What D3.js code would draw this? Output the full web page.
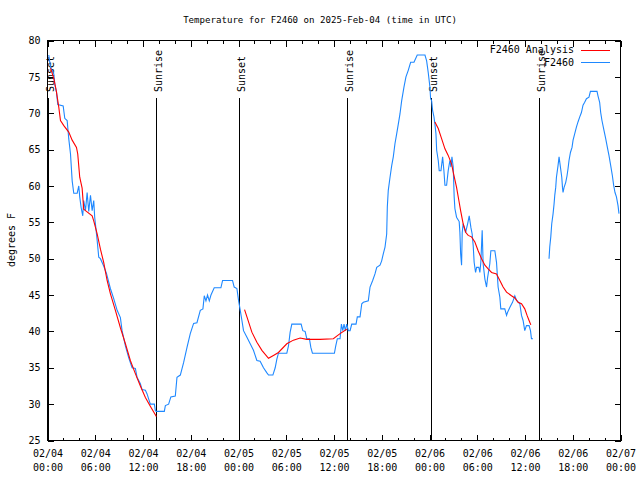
<!DOCTYPE html>
<html>
<head>
<meta charset="utf-8">
<script src="https://cdn.jsdelivr.net/npm/d3@7"></script>
<style>
html,body{margin:0;padding:0;background:#fff;}
svg{display:block;}
text{font-family:"DejaVu Sans Mono",monospace;font-size:10px;fill:#000;}
</style>
</head>
<body>
<svg id="chart" width="640" height="480"></svg>
<script>
// ---- data (hours since 2025-02-04 00:00 UTC) ----
const obsHours = [0.16,0.38,0.59,0.79,0.92,1.13,1.29,1.97,2.17,2.47,2.67,2.89,3.1,3.3,3.73,3.93,4.05,4.23,4.43,4.55,4.77,4.98,5.18,5.4,5.61,5.81,5.93,6.11,6.24,6.44,6.65,7.06,7.4,7.9,8.32,8.75,9.16,9.37,9.79,10.2,10.63,11.04,11.25,11.67,11.88,12.3,12.51,12.92,13.43,13.55,13.68,14.68,14.81,15.22,15.5,16.06,16.27,16.69,17.1,17.53,17.94,18.36,18.78,19.2,19.53,19.7,19.91,20.11,20.33,20.54,20.95,21.79,22.0,23.25,23.46,23.8,24.0,24.22,24.43,24.63,25.06,25.47,25.88,26.31,26.72,27.14,27.57,27.77,28.32,28.61,28.82,29.02,30.07,30.28,30.49,30.7,31.87,32.08,32.37,32.58,32.91,33.09,33.29,36.05,36.22,36.42,36.76,36.93,37.1,37.26,37.43,37.6,37.8,38.02,38.23,38.77,38.93,39.27,39.49,39.69,40.31,40.53,40.86,41.15,41.37,41.78,41.99,42.2,42.41,42.62,42.7,42.82,43.04,43.25,43.45,43.66,43.88,44.08,44.29,44.5,44.79,45.04,45.33,45.63,46.05,46.46,47.43,47.64,47.84,48.05,48.14,48.27,48.39,48.56,48.68,48.81,48.9,49.1,49.22,49.44,49.65,49.81,49.94,50.15,50.35,50.56,50.69,50.82,50.98,51.1,51.19,51.4,51.73,51.82,51.91,52.03,52.11,52.23,52.53,52.79,52.99,53.2,53.36,53.49,53.61,53.79,53.92,54.2,54.33,54.45,54.62,54.74,54.96,55.17,55.3,55.58,55.71,56.21,56.42,56.62,56.84,56.96,57.46,57.68,57.8,58.09,58.43,58.72,58.93,59.35,59.56,59.76,59.97,60.18,60.51,60.69,60.81,61.01,
  62.0,
  63.02,63.11,63.24,63.36,63.53,63.65,63.74,63.86,63.95,64.15,64.28,64.45,64.62,64.71,64.78,64.91,65.12,65.28,65.41,65.53,65.71,65.91,66.04,66.25,66.46,66.66,66.88,67.09,67.29,67.5,67.72,68.04,68.22,69.05,69.17,69.38,69.51,69.67,69.93,70.14,70.35,70.55,70.77,70.98,71.14,71.31,71.49,71.69,71.81];
const obsTemps = [78,76.3,75.9,75.4,74,72.9,71.2,71,69.3,69,66.5,64.4,60.7,59,59,60,58.5,57,55.9,58,56.6,59.1,56.5,58.7,56.6,58,55.7,53.9,52.5,50.2,50,49,48,45.9,44.5,42.9,41.9,40.1,38,36.4,35,34.9,33.7,32.8,32,31.9,31.4,30,30,29.1,29,29,29.8,30,31,31.1,33.7,34,35.7,37.8,39.7,41.1,41.2,42.9,43.1,44.9,44.2,45,44.2,45,46,46,47,47,46.1,45.9,44.3,42.9,41.5,40.1,39.2,38.3,37.4,36,35.9,35,34.3,34,34,35,36.2,37,37,38,39.9,41,41,40.1,40,39,39,37.8,37,37,38,39,39,41,40.1,41,40.1,41,40.1,40.1,41,41,42,42,43.8,44,44.2,46.1,47,47.9,48.8,49.1,49.7,50.7,51.6,53.4,57.1,59.4,61.2,62.8,64,65.8,67.2,68.5,69.9,71.7,73.6,75,75.9,77,77,78,78,77.2,75.6,73.6,72,71.7,70.4,69.5,68.5,67.2,64.9,63.5,62.1,62.1,64,62.1,60.1,60.1,62.1,63.5,62.6,64,62.6,58.5,56.9,55.7,55.1,53.6,50.7,49.1,53.6,54.8,53.6,54.8,55.9,54.3,53.4,51.8,49.5,48.1,48.8,48.8,48.1,49.5,53.9,49.3,47.2,46.1,47.4,49.3,51.1,51.1,49.5,46.1,44.7,43.1,43.1,42.2,42.6,43.3,44,44.9,44.3,43.8,42.2,41.5,40.1,40.8,40.8,40.1,39,39,
  null,
  50,51.6,53,54.8,56.2,57.5,58.7,59.8,61.2,62.8,64,62.6,61.2,59.8,59.1,59.8,60.5,61.4,62.4,63.5,64.6,65.3,66.3,67.2,68.1,68.8,69.5,70.1,71.1,71.5,72,72.2,73,73,72.4,71.5,70.1,69,67.6,66.5,65.3,64.2,62.8,61.4,60.1,59.1,58.5,57.3,56.2];

const anaHours = [0.38,0.79,1.13,1.42,1.63,2.05,2.67,3.1,3.64,3.8,4.05,4.35,4.55,4.77,5.61,5.81,6.24,6.65,7.06,7.49,7.9,8.53,9.16,9.79,10.41,11.04,11.67,12.3,12.92,13.68,
  19.0,
  24.76,25.06,25.68,26.31,26.94,27.77,28.39,29.02,30.07,30.9,31.74,32.58,34.25,35.92,36.76,37.6,
  43.0,
  48.68,49.1,49.52,49.94,50.35,50.78,50.98,51.4,51.69,51.91,52.23,52.57,52.86,53.28,53.7,54.11,54.54,54.96,55.37,55.8,56.42,56.84,57.25,57.68,58.3,58.72,59.13,59.56,59.97,60.26,60.51,60.73];
const anaTemps = [76.2,74.8,72.9,70.8,69,68.3,67.4,66.3,65.3,64.4,61.2,59.7,56.8,56.6,55.9,55.2,53.4,51.3,49.5,47,45.2,42.9,40.5,38.3,36,34.2,32.5,30.9,29.7,28.3,
  null,
  43,42,39.9,38.5,37.4,36.3,36.7,37.1,38.3,38.8,39.1,38.9,38.9,39,39.7,40.3,
  null,
  68.8,67.9,66.5,65.1,64.2,63,61.9,59.8,58,56.6,54.8,53.6,53.2,53,52.3,51.1,50,49.1,48.6,48.1,47.9,47,46.1,45.4,44.9,44.6,44,43.8,43.1,42.2,41.5,40.9];

const sunHours = [0.1, 13.67, 24.1, 37.67, 48.2, 61.8];
const sunLabels = ["Sunset","Sunrise","Sunset","Sunrise","Sunset","Sunrise"];

const xTickHours = [0,6,12,18,24,30,36,42,48,54,60,66,72];
const xTickDates = ["02/04","02/04","02/04","02/04","02/05","02/05","02/05","02/05","02/06","02/06","02/06","02/06","02/07"];
const xTickTimes = ["00:00","06:00","12:00","18:00","00:00","06:00","12:00","18:00","00:00","06:00","12:00","18:00","00:00"];
const xMinorHours = d3.range(0,73,2).filter(h => h % 6 !== 0);
const yTicks = [25,30,35,40,45,50,55,60,65,70,75,80];

const titleText = "Temperature for F2460 on 2025-Feb-04 (time in UTC)";
const yLabel = "degrees F";
const seriesNames = ["F2460 Analysis","F2460"];
const seriesColors = ["#ff0000","#1e88ff"];

// ---- drawing ----
const svg = d3.select("#chart");
const L = 47.5, R = 620.5, T = 40.5, B = 440.5;
const x = d3.scaleLinear().domain([0,72]).range([L,R]);
const y = d3.scaleLinear().domain([25,80]).range([B,T]);

svg.append("rect").attr("width",640).attr("height",480).attr("fill","#fff");

// title
svg.append("text").attr("x",320).attr("y",22.5).attr("text-anchor","middle")
  .style("font-size","9.1px").text(titleText);
// y label
svg.append("text").attr("transform","translate(11,240) rotate(-90)")
  .attr("text-anchor","middle").attr("dy","0.35em").text(yLabel);

// axes (ticks inward)
function styleAxis(g){
  g.select(".domain").remove();
  g.selectAll("line").attr("stroke","#000").attr("shape-rendering","crispEdges");
  g.selectAll("text").style("font-family",'"DejaVu Sans Mono",monospace').style("font-size","10px").attr("fill","#000");
}
const gb = svg.append("g").attr("transform",`translate(0,${B})`)
  .call(d3.axisBottom(x).tickValues(xTickHours).tickSizeInner(-6).tickSizeOuter(0).tickFormat(""));
styleAxis(gb);
gb.selectAll(".tick").each(function(d,i){
  const t = d3.select(this).append("text").attr("text-anchor","middle")
    .style("font-family",'"DejaVu Sans Mono",monospace').style("font-size","10px").attr("fill","#000");
  t.append("tspan").attr("x",0).attr("y",16).text(xTickDates[i]);
  t.append("tspan").attr("x",0).attr("y",30).text(xTickTimes[i]);
});
const gbm = svg.append("g").attr("transform",`translate(0,${B})`)
  .call(d3.axisBottom(x).tickValues(xMinorHours).tickSizeInner(-3).tickSizeOuter(0).tickFormat(""));
styleAxis(gbm);
const gt = svg.append("g").attr("transform",`translate(0,${T})`)
  .call(d3.axisTop(x).tickValues(xTickHours).tickSizeInner(-6).tickSizeOuter(0).tickFormat(""));
styleAxis(gt);
const gtm = svg.append("g").attr("transform",`translate(0,${T})`)
  .call(d3.axisTop(x).tickValues(xMinorHours).tickSizeInner(-3).tickSizeOuter(0).tickFormat(""));
styleAxis(gtm);
const gl = svg.append("g").attr("transform",`translate(${L},0)`)
  .call(d3.axisLeft(y).tickValues(yTicks).tickSizeInner(-6).tickSizeOuter(0).tickPadding(7).tickFormat(d3.format("d")));
styleAxis(gl);
const gr = svg.append("g").attr("transform",`translate(${R},0)`)
  .call(d3.axisRight(y).tickValues(yTicks).tickSizeInner(-6).tickSizeOuter(0).tickFormat(""));
styleAxis(gr);

// frame
svg.append("rect").attr("x",L).attr("y",T).attr("width",R-L).attr("height",B-T)
  .attr("fill","none").attr("stroke","#000").attr("shape-rendering","crispEdges");

// sun lines
const sun = svg.append("g");
sunHours.forEach((h,i) => {
  const sx = Math.round(x(h)) + 0.5;
  sun.append("line").attr("x1",sx).attr("x2",sx).attr("y1",98).attr("y2",B)
    .attr("stroke","#000").attr("shape-rendering","crispEdges");
  sun.append("text").attr("transform",`translate(${sx+1.5},92) rotate(-90)`)
    .attr("text-anchor","start").attr("dy","0.35em").text(sunLabels[i]);
});

// series
const obs = obsHours.map((h,i) => ({h, t: obsTemps[i]}));
const ana = anaHours.map((h,i) => ({h, t: anaTemps[i]}));
const line = d3.line().defined(d => d.t != null).x(d => x(d.h)).y(d => y(d.t));
svg.append("path").datum(obs).attr("d",line).attr("fill","none")
  .attr("stroke",seriesColors[1]).attr("stroke-width",1.1);
svg.append("path").datum(ana).attr("d",line).attr("fill","none")
  .attr("stroke",seriesColors[0]).attr("stroke-width",1.1);

// legend
const lg = svg.append("g");
[0,1].forEach(i => {
  const ly = 49.5 + i*12.5;
  lg.append("text").attr("x",574).attr("y",ly).attr("dy","0.35em").attr("text-anchor","end").text(seriesNames[i]);
  lg.append("line").attr("x1",581).attr("x2",610).attr("y1",Math.round(ly)+0.5).attr("y2",Math.round(ly)+0.5)
    .attr("stroke",seriesColors[i]).attr("stroke-width",1).attr("shape-rendering","crispEdges");
});
</script>
</body>
</html>
